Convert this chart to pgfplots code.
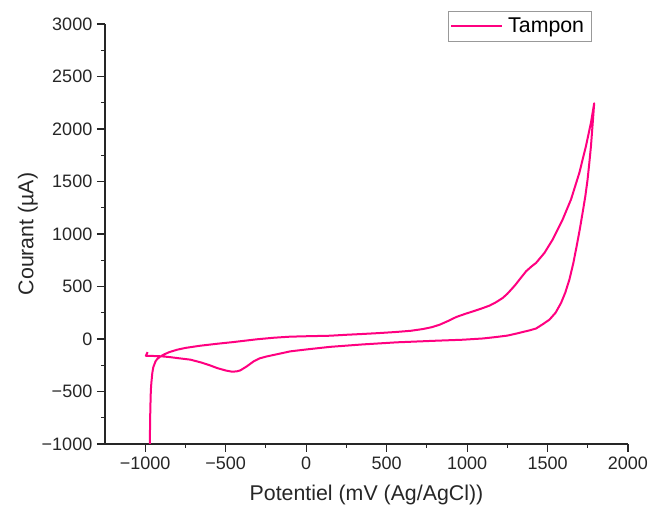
\documentclass[border=0pt]{standalone}
\usepackage{fontspec}
\setmainfont{Liberation Sans}
\usepackage{pgfplots}
\pgfplotsset{compat=1.18}
\usetikzlibrary{calc}
\definecolor{cvpink}{RGB}{255,0,128}
\begin{document}
\begin{tikzpicture}
\begin{axis}[
  scale only axis,
  width=392.25pt, height=315pt,
  xmin=-1250, xmax=2000, ymin=-1000, ymax=3000,
  axis x line*=bottom, axis y line*=left,
  axis line style={line width=0.8pt, black!85},
  tick align=outside,
  major tick length=6pt, minor tick length=3pt,
  tick style={line width=0.8pt, black!85},
  xtick={-1000,-500,0,500,1000,1500,2000},
  xticklabels={−1000,−500,0,500,1000,1500,2000},
  ytick={-1000,-500,0,500,1000,1500,2000,2500,3000},
  yticklabels={−1000,−500,0,500,1000,1500,2000,2500,3000},
  minor x tick num=1, minor y tick num=1,
  tick label style={font=\fontsize{13.5}{15}\selectfont, text=black!85},
  xticklabel style={inner xsep=0pt},
  label style={font=\fontsize{16}{19}\selectfont, text=black!85},
  xlabel={Potentiel (mV (Ag/AgCl))},
  ylabel={Courant (µA)},
  xlabel shift=5pt,
  ylabel shift=-4pt,
  legend style={at={(0.931,1.031)}, anchor=north east, draw=black!40, line width=0.7pt,
    font=\fontsize{16}{19}\selectfont, inner xsep=1.5pt, inner ysep=3pt,
    nodes={inner xsep=4pt}},
  legend image code/.code={\draw[#1] (0pt,0pt) -- (38pt,0pt);},
]
\addplot[cvpink, line width=1.5pt, line join=round] coordinates {
(-985,-125) (-996,-160) (-985,-161) (-950,-162) (-900,-165) (-850,-172) (-800,-182)
(-719,-197) (-650,-225) (-600,-250) (-553,-277) (-500,-300) (-460,-312) (-430,-308)
(-409,-299) (-370,-262) (-326,-213) (-290,-185) (-244,-166) (-180,-145) (-99,-118)
(0,-100) (149,-75) (350,-52) (562,-32) (800,-17) (975,-7) (1100,5) (1182,19)
(1250,32) (1305,51) (1388,82) (1429,100) (1470,140) (1512,184) (1550,250) (1584,343)
(1610,440) (1636,566) (1660,720) (1681,884) (1700,1040) (1718,1202) (1735,1360)
(1749,1520) (1760,1680) (1770,1838) (1780,2040) (1790,2245)
(1770,2061) (1739,1838) (1698,1584) (1646,1329) (1594,1138) (1532,947) (1481,820)
(1429,725) (1400,690) (1367,645) (1326,566) (1300,515) (1284,487) (1250,430)
(1222,391) (1180,350) (1140,318) (1090,290) (1037,263) (990,240) (934,210) (880,170)
(830,136) (780,112) (727,95) (650,78) (562,67) (450,56) (355,48) (250,40) (149,31)
(0,26) (-99,22) (-200,12) (-306,-3) (-450,-29) (-550,-45) (-657,-64) (-750,-85)
(-801,-102) (-850,-125) (-880,-145) (-905,-166) (-925,-190) (-936,-213) (-950,-270)
(-956,-324) (-962,-420) (-965,-484) (-968,-650) (-970,-800) (-971,-1000)
};
\addlegendentry{Tampon}
\coordinate (bl) at (rel axis cs:0,0);
\coordinate (tr) at (rel axis cs:1,1);
\end{axis}
\path ($(bl)+(-78.75pt,-50.25pt)$) rectangle ($(tr)+(15pt,18pt)$);
\end{tikzpicture}
\end{document}
